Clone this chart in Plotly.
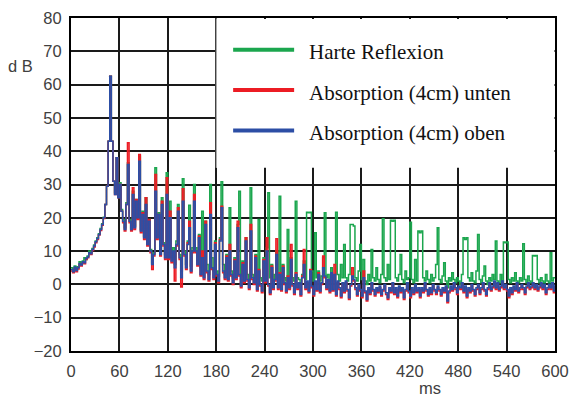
import plotly.graph_objects as go

# time axis (ms), 2 ms sampling
time_ms = list(range(0, 601, 2))

harte_reflexion = [
    5.0, 4.2, 5.5, 4.5, 5.3, 6.8, 6.0, 7.0, 8.0, 7.5,
    8.5, 10.0, 9.5, 10.8, 11.8, 13.0, 14.0, 15.2, 16.8, 18.2,
    20.2, 24.0, 29.5, 43.0, 62.5, 43.0, 31.0, 27.5, 38.0, 26.5,
    30.5, 22.5, 19.5, 17.0, 24.5, 36.5, 19.5, 17.0, 28.0, 17.5,
    25.5, 20.5, 38.5, 16.5, 22.0, 14.5, 26.0, 12.5, 19.5, 10.5,
    6.5, 9.5, 35.0, 14.5, 21.5, 9.5, 26.0, 12.5, 9.0, 33.5,
    9.0, 25.0, 8.0, 11.0, 6.0, 13.0, 24.0, 9.0, 4.0, 31.7,
    10.0, 6.0, 13.0, 23.8, 5.5, 11.0, 30.0, 11.0, 7.0, 15.0,
    5.0, 22.0, 4.0, 19.0, 6.0, 3.0, 30.0, 8.0, 4.0, 13.0,
    4.0, 2.5, 14.0, 30.8, 6.0, 3.0, 9.0, 3.0, 23.0, 4.0,
    2.0, 8.0, 3.0, 18.0, 28.0, 2.5, 7.0, 3.0, 14.0, 3.0,
    1.5, 29.0, 3.0, 2.0, 9.0, 1.5, 19.5, 2.0, 1.0, 8.0,
    2.0, 11.0, 27.5, 2.0, 6.0, 1.0, 3.0, 10.0, 2.0, 26.5,
    1.5, 6.0, 2.0, 1.0, 16.5, 1.5, 8.0, 2.0, 1.0, 25.0,
    2.0, 1.5, 0.5, 3.0, 7.0, 1.5, 21.7, 21.5, 21.7, 4.0,
    1.0, 15.5, 2.0, 4.0, 1.0, 2.5, 8.0, 21.5, 2.0, 3.0,
    1.0, 5.0, 2.0, 1.5, 21.7, 3.0, 1.0, 6.0, 2.0, 12.0,
    2.0, 1.0, 3.0, 18.0, 18.0, 17.5, 2.0, 1.0, 4.0, 12.0,
    1.5, 7.5, 1.0, 0.0, 3.0, 1.0, 10.5, 2.0, 1.0, 5.0,
    1.5, 0.5, 3.0, 19.7, 2.0, 1.0, 6.0, 1.5, 19.3, 19.0,
    19.3, 2.0, 1.0, 3.0, 9.0, 1.5, 0.5, 4.0, 1.5, 2.0,
    18.7, 1.5, 0.5, 7.5, 1.0, 16.0, 15.5, 16.0, 2.0, 1.0,
    4.0, 1.5, 0.5, 3.0, 1.0, 2.0, 6.0, 17.0, 1.5, 0.5,
    2.5, 6.5, 1.0, -1.0, 2.0, 1.0, 3.5, 1.5, 0.5, 2.0,
    1.0, 0.0, 3.0, 14.0, 13.5, 14.0, 2.0, 1.0, 3.5, 1.0,
    0.5, 4.0, 15.0, 1.5, 0.5, 2.5, 5.5, 1.0, 0.0, 2.0,
    1.0, 3.0, 1.5, 13.0, 1.0, 0.5, 3.0, 1.0, 12.7, 12.5,
    12.7, 1.5, 0.5, 2.0, 1.0, 3.5, 1.0, 0.5, 2.0, 1.0,
    12.2, 1.5, 0.5, 2.5, 1.0, 0.5, 8.7, 8.5, 8.7, 1.5,
    0.5, 2.0, 1.0, 0.5, 3.0, 1.0, 0.5, 9.5, 1.0, 2.0,
    2.0,
]

absorption_unten = [
    4.0, 3.5, 4.8, 3.8, 4.6, 6.0, 5.5, 6.5, 6.2, 7.5,
    8.0, 9.2, 9.0, 10.2, 11.2, 12.5, 13.5, 14.8, 16.2, 17.8,
    19.8, 24.0, 29.5, 43.0, 62.5, 43.0, 31.0, 27.0, 38.0, 26.0,
    30.0, 22.0, 18.5, 16.0, 24.0, 42.5, 18.5, 16.0, 29.0, 16.5,
    25.5, 19.5, 39.0, 15.5, 21.5, 13.5, 26.0, 11.5, 19.5, 9.5,
    4.5, 8.5, 33.0, 13.5, 21.0, 8.5, 25.0, 11.5, 7.5, 32.0,
    7.5, 22.0, 6.5, 9.5, 1.0, 11.5, 23.0, 7.5, -0.8, 28.7,
    8.5, 4.5, 12.5, 19.0, 3.5, 9.5, 27.0, 9.5, 5.5, 14.5,
    2.5, 10.0, 1.5, 19.0, 3.5, 1.0, 24.5, 4.5, 1.5, 12.5,
    2.5, 0.5, 13.5, 23.5, 3.5, 1.5, 8.5, 1.0, 12.0, 2.5,
    0.0, 7.5, 1.5, 19.0, 2.5, -1.0, 6.5, 0.5, 14.0, 1.0,
    -1.5, 18.0, 1.5, 0.0, 8.5, -2.0, 4.5, -0.5, -2.5, 7.5,
    0.5, 14.0, -0.5, -3.0, 5.5, -1.5, 1.0, 13.7, -1.5, 3.5,
    -2.0, 5.5, 0.0, -2.5, 2.5, -1.5, 12.0, -0.5, -3.0, 3.5,
    -1.5, 0.0, -3.5, 2.5, 10.5, -1.5, 0.5, -2.5, 4.5, -1.0,
    -3.5, 0.5, -2.0, 3.5, -2.5, 0.0, 8.5, 2.0, -1.5, 1.0,
    -2.5, 3.0, -2.0, 6.0, -3.5, 0.5, -1.5, -4.0, 0.0, -2.5,
    0.5, -2.0, -4.5, -0.5, 5.0, 1.0, -1.5, -3.5, -0.5, -2.0,
    -4.0, 4.0, -2.5, -5.0, -1.5, -3.0, 0.0, -2.0, -3.5, -1.5,
    -2.5, -1.0, -3.5, -2.0, -0.5, -3.0, -4.5, -1.5, -2.5, 0.0,
    -3.0, -1.5, -4.0, -1.0, -2.5, -1.5, -4.5, -2.0, 0.0, -2.5,
    -4.0, -1.5, -3.0, -0.5, -2.5, -1.5, -4.0, -1.5, -2.5, 0.0,
    -2.0, -3.5, -1.5, -3.0, -0.5, -2.0, -3.0, -1.0, -2.0, -3.5,
    -1.5, -2.5, -1.0, -5.5, -2.5, -1.0, -2.0, 0.0, -1.5, -3.0,
    -1.0, -1.5, 0.0, -2.5, -1.0, -4.0, -1.5, -2.5, -0.5, -2.0,
    -3.5, -1.5, -0.5, -3.0, -1.5, 0.0, -2.0, -3.5, -1.5, 0.0,
    -2.0, -1.0, 0.5, -1.5, 0.0, -2.0, -1.0, 0.5, -1.5, -0.5,
    -2.0, -4.0, -1.5, -3.0, -1.0, -2.0, 0.0, -2.5, -1.5, -0.5,
    -1.5, -3.0, -1.0, 0.0, -1.5, -1.0, 0.0, -1.5, -0.5, -2.0,
    -1.0, 0.0, -1.5, -0.5, -3.0, -1.5, -0.5, -1.5, 0.0, -2.5,
    -0.5,
]

absorption_oben = [
    4.5, 3.8, 5.2, 4.2, 5.0, 6.3, 5.8, 6.8, 6.5, 7.8,
    8.2, 9.5, 9.2, 10.5, 11.5, 12.8, 13.8, 15.0, 16.5, 18.0,
    20.0, 24.0, 29.5, 43.0, 62.5, 43.0, 31.0, 27.0, 38.0, 26.0,
    30.0, 22.0, 19.0, 16.5, 24.0, 36.0, 19.0, 16.5, 27.0, 17.0,
    25.0, 20.0, 37.0, 16.0, 21.0, 14.0, 24.0, 12.0, 19.0, 10.0,
    6.0, 9.0, 28.0, 14.0, 21.0, 9.0, 24.0, 12.0, 8.0, 27.0,
    8.0, 20.0, 7.0, 10.0, 5.0, 12.0, 22.0, 8.0, 2.0, 25.0,
    9.0, 5.0, 12.0, 17.0, 4.0, 10.0, 25.0, 10.0, 6.0, 14.0,
    3.0, 8.0, 2.0, 18.0, 4.0, 1.5, 21.0, 5.0, 2.0, 12.0,
    3.0, 1.0, 13.0, 23.0, 4.0, 2.0, 8.0, 1.5, 10.0, 3.0,
    0.5, 7.0, 2.0, 17.0, 3.0, -0.5, 6.0, 1.0, 13.0, 1.5,
    -1.0, 16.0, 2.0, 0.5, 8.0, -1.5, 4.0, 0.0, -2.0, 7.0,
    1.0, 10.0, 0.0, -2.5, 5.0, -1.0, 1.5, 9.0, -1.0, 3.0,
    -1.5, 5.0, 0.5, -2.0, 2.0, -1.0, 7.5, 0.0, -2.5, 3.0,
    -1.0, 0.5, -3.0, 2.0, 6.0, -1.0, 1.0, -2.0, 4.0, -0.5,
    -3.0, 1.0, -1.5, 3.0, -2.0, 0.5, 5.0, 2.5, -1.0, 1.5,
    -2.0, 3.5, -1.5, 3.0, -3.0, 1.0, -1.0, -3.5, 0.5, -2.0,
    1.0, -1.5, -4.0, 0.0, 2.5, 1.5, -1.0, -3.0, 0.0, -1.5,
    -3.5, 2.0, -2.0, -4.5, -1.0, -2.5, 0.5, -1.5, -3.0, -1.0,
    -2.0, -0.5, -3.0, -1.5, 0.0, -2.5, -4.0, -1.0, -2.0, 0.5,
    -2.5, -1.0, -3.5, -0.5, -2.0, -1.0, -4.0, -1.5, 0.5, -2.0,
    -3.5, -1.0, -2.5, 0.0, -2.0, -1.0, -3.5, -1.0, -2.0, 0.5,
    -1.5, -3.0, -1.0, -2.5, 0.0, -1.5, -2.5, -0.5, -1.5, -3.0,
    -1.0, -2.0, -0.5, -5.0, -2.0, -0.5, -1.5, 0.5, -1.0, -2.5,
    -0.5, -1.0, 0.5, -2.0, -0.5, -3.5, -1.0, -2.0, 0.0, -1.5,
    -3.0, -1.0, 0.0, -2.5, -1.0, 0.5, -1.5, -3.0, -1.0, 0.5,
    -1.5, -0.5, 1.0, -1.0, 0.5, -1.5, -0.5, 1.0, -1.0, 0.0,
    -1.5, -3.5, -1.0, -2.5, -0.5, -1.5, 0.5, -2.0, -1.0, 0.0,
    -1.0, -2.5, -0.5, 0.5, -1.0, -0.5, 0.5, -1.0, 0.0, -1.5,
    -0.5, 0.5, -1.0, 0.0, -2.5, -1.0, 0.0, -1.0, 0.5, -2.0,
    0.0,
]

series_names = ["Harte Reflexion", "Absorption (4cm) unten", "Absorption (4cm) oben"]
series_colors = ["#1ba64e", "#ec1c24", "#2c4ea5"]
x_ticks = [0, 60, 120, 180, 240, 300, 360, 420, 480, 540, 600]
y_ticks = [-20, -10, 0, 10, 20, 30, 40, 50, 60, 70, 80]

fig = go.Figure()
for name, vals, col in zip(series_names,
                           [harte_reflexion, absorption_unten, absorption_oben],
                           series_colors):
    fig.add_trace(go.Scatter(x=time_ms, y=vals, name=name, mode="lines",
                             line=dict(color=col, width=1.5, shape="hv"),
                             showlegend=False))

axis_font = dict(family="Liberation Sans", size=16.5, color="#404040")
grid_col = "#1a1a1a"

fig.update_xaxes(range=[0, 600], tickvals=x_ticks, ticktext=[str(v) for v in x_ticks],
                 showgrid=True, gridcolor=grid_col, gridwidth=1.5,
                 showline=True, linecolor="black", linewidth=2, mirror=True,
                 ticks="", zeroline=False, tickfont=axis_font, ticklabelstandoff=4,
                 automargin=False, ticklabeloverflow="allow")
fig.update_yaxes(range=[-20, 80], tickvals=y_ticks,
                 showgrid=True, gridcolor=grid_col, gridwidth=1.5,
                 showline=True, linecolor="black", linewidth=2, mirror=True,
                 ticks="", zeroline=False, tickfont=axis_font, ticklabelstandoff=4,
                 automargin=False, ticklabeloverflow="allow")

# legend box (white panel inside the plot area)
fig.add_shape(type="rect", xref="x", yref="y", x0=180, x1=599.3, y0=35, y1=79.7,
              fillcolor="white", line=dict(width=0), layer="above")
fig.add_shape(type="line", xref="x", yref="y", x0=180, x1=180, y0=35, y1=80,
              line=dict(color="#9a9a9a", width=1), layer="above")

leg_y = [0.905, 0.784, 0.662]
for name, col, yy in zip(series_names, series_colors, leg_y):
    fig.add_shape(type="line", xref="paper", yref="paper", x0=0.335, x1=0.461,
                  y0=yy, y1=yy, line=dict(color=col, width=4), layer="above")
    fig.add_annotation(x=0.488, y=yy - 0.008, xref="paper", yref="paper", text=name,
                       showarrow=False, xanchor="left", yanchor="middle",
                       font=dict(family="Liberation Serif", size=21, color="#111111"))

fig.add_annotation(x=-0.105, y=0.855, xref="paper", yref="paper", text="d B",
                   showarrow=False, xanchor="center", yanchor="middle", font=axis_font)
fig.add_annotation(x=0.742, y=-0.11, xref="paper", yref="paper", text="ms",
                   showarrow=False, xanchor="center", yanchor="middle", font=axis_font)

fig.update_layout(width=569, height=399,
                  margin=dict(l=71, r=14, t=18, b=48),
                  paper_bgcolor="white", plot_bgcolor="white",
                  showlegend=False)

# remove the default 8 px page margin so the figure fills the 569x399 window exactly
fig.write_html("out.html",
               config=dict(displayModeBar=False),
               post_script="document.body.style.margin='0';"
                           "document.documentElement.style.overflow='hidden';")
